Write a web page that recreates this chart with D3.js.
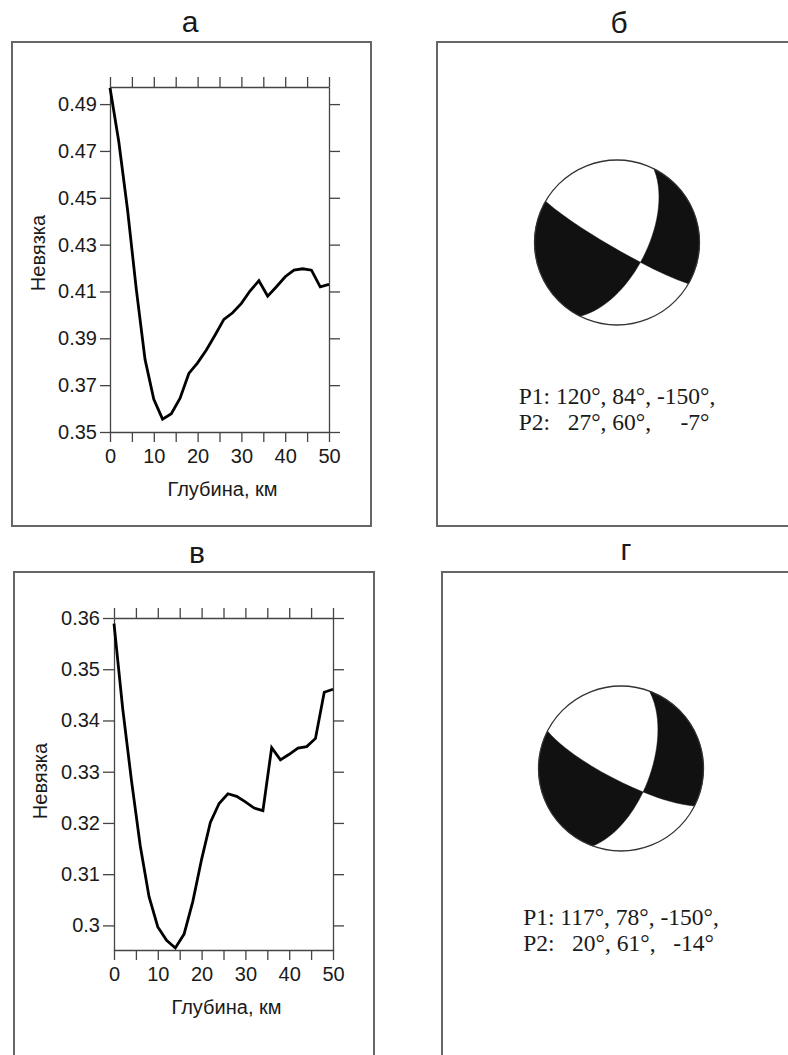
<!DOCTYPE html>
<html lang="ru">
<head>
<meta charset="UTF-8">
<title>Невязка и механизм очага</title>
<script src="https://d3js.org/d3.v7.min.js"></script>
<style>
  body { margin: 0; background: #fff; }
  svg { display: block; font-family: "Liberation Sans", Arial, sans-serif; }
  .frame { fill: none; stroke: #666; stroke-width: 2; }
  .axis path, .axis line { stroke: #444; stroke-width: 1.3; }
  .axis text { font-size: 20px; fill: #1a1a1a; font-family: "Liberation Sans", Arial, sans-serif; }
  .curve { fill: none; stroke: #000; stroke-width: 2.8; }
  .ttl { font-size: 30px; fill: #1a1a1a; text-anchor: middle; }
  .lbl { font-size: 20px; fill: #1a1a1a; text-anchor: middle; }
  .mech { font-family: "Liberation Serif", "Times New Roman", serif; font-size: 23.5px; fill: #1a1a1a; white-space: pre; }
</style>
</head>
<body>
<svg width="788" height="1055"></svg>
<script>
// depth of the trial source, km
const depth = [0, 2, 4, 6, 8, 10, 12, 14, 16, 18, 20, 22, 24, 26, 28, 30, 32, 34, 36, 38, 40, 42, 44, 46, 48, 50];

// misfit ("невязка") vs depth, panels а and в
const misfitA = [0.497, 0.474, 0.445, 0.411, 0.381, 0.364, 0.3555, 0.3578, 0.3644, 0.375, 0.3795, 0.385, 0.3914,
                 0.3981, 0.4009, 0.4049, 0.4103, 0.4146, 0.408, 0.412, 0.4163, 0.4191, 0.4197, 0.4191, 0.412, 0.413];
const misfitB = [0.3589, 0.3422, 0.3282, 0.3155, 0.3056, 0.2997, 0.2971, 0.2956, 0.2983, 0.3047, 0.3129, 0.3201, 0.3238,
                 0.3257, 0.3252, 0.3241, 0.3229, 0.3224, 0.3347, 0.3323, 0.3334, 0.3346, 0.3349, 0.3365, 0.3455, 0.3461];

const xTicks = [0, 5, 10, 15, 20, 25, 30, 35, 40, 45, 50];
const yTicksA = [0.35, 0.37, 0.39, 0.41, 0.43, 0.45, 0.47, 0.49];
const yTicksB = [0.30, 0.31, 0.32, 0.33, 0.34, 0.35, 0.36];

// nodal planes: strike, dip, rake
const mechB = [{ strike: 120, dip: 84, rake: -150 }, { strike: 27, dip: 60, rake: -7 }];
const mechG = [{ strike: 117, dip: 78, rake: -150 }, { strike: 20, dip: 61, rake: -14 }];

const svg = d3.select("svg");
svg.append("rect").attr("width", 788).attr("height", 1055).attr("fill", "#fff");

function misfitPanel(o) {
  const g = svg.append("g");
  g.append("rect").attr("class", "frame")
    .attr("x", o.box[0]).attr("y", o.box[1]).attr("width", o.box[2]).attr("height", o.box[3]);
  g.append("text").attr("class", "ttl").attr("x", o.title[0]).attr("y", o.title[1]).text(o.name);

  const x = d3.scaleLinear().domain([0, 50]).range([o.x0, o.x1]);
  const y = d3.scaleLinear().domain(o.dom).range([o.y1, o.y0]);

  g.append("g").attr("class", "axis").attr("transform", `translate(0,${o.y1})`)
    .call(d3.axisBottom(x).tickValues(xTicks).tickSize(10).tickPadding(7).tickSizeOuter(0)
      .tickFormat(d => d % 10 === 0 ? d : ""));
  g.append("g").attr("class", "axis").attr("transform", `translate(0,${o.y0})`)
    .call(d3.axisTop(x).tickValues(xTicks).tickSize(10).tickSizeOuter(0).tickFormat(""));
  g.append("g").attr("class", "axis").attr("transform", `translate(${o.x0},0)`)
    .call(d3.axisLeft(y).tickValues(o.ticks).tickSize(o.tick).tickPadding(3).tickSizeOuter(0).tickFormat(o.fmt));
  g.append("g").attr("class", "axis").attr("transform", `translate(${o.x1},0)`)
    .call(d3.axisRight(y).tickValues(o.ticks).tickSize(11).tickSizeOuter(0).tickFormat(""));
  g.selectAll(".axis .domain").attr("fill", "none");

  g.append("path").datum(o.values).attr("class", "curve")
    .attr("d", d3.line().x((d, i) => x(depth[i])).y(d => y(d)));

  g.append("text").attr("class", "lbl").attr("x", (o.x0 + o.x1) / 2 + 3).attr("y", o.y1 + 64).text("Глубина, км");
  g.append("text").attr("class", "lbl")
    .attr("transform", `translate(${o.ylab[0]},${o.ylab[1]}) rotate(-90)`).text("Невязка");
}

misfitPanel({ name: "а", box: [12, 42, 359, 484], title: [190, 32], x0: 110, x1: 329, y0: 87, y1: 432,
  dom: [0.35, 0.4973], ticks: yTicksA, tick: 10, fmt: d3.format(".2f"), values: misfitA, ylab: [45, 253] });
misfitPanel({ name: "в", box: [14, 572, 360, 500], title: [197, 563], x0: 114, x1: 333, y0: 618, y1: 950,
  dom: [0.2952, 0.36], ticks: yTicksB, tick: 11, fmt: d => String(+d.toFixed(2)), values: misfitB, ylab: [47, 781] });

// ---- focal mechanism (lower hemisphere, equal area) ----
const rad = Math.PI / 180;
const cross = (a, b) => [a[1] * b[2] - a[2] * b[1], a[2] * b[0] - a[0] * b[2], a[0] * b[1] - a[1] * b[0]];
const neg = a => a.map(v => -v);

function planeVectors(p) {
  const s = p.strike * rad, d = p.dip * rad, r = p.rake * rad;
  const n = [-Math.sin(d) * Math.sin(s), Math.sin(d) * Math.cos(s), -Math.cos(d)];
  const u = [Math.cos(r) * Math.cos(s) + Math.cos(d) * Math.sin(r) * Math.sin(s),
             Math.cos(r) * Math.sin(s) - Math.cos(d) * Math.sin(r) * Math.cos(s),
             -Math.sin(r) * Math.sin(d)];
  return { n, u, b: cross(n, u) };
}

// north-east-down vector -> lon/lat on a sphere whose pole is the nadir
function toLL(v) {
  const az = Math.atan2(v[1], v[0]) / rad;
  const lat = Math.asin(Math.max(-1, Math.min(1, v[2]))) / rad;
  return [180 - az, lat];
}

function lune(pts) {
  const ring = pts.map(toLL);
  ring.push(ring[0]);
  let f = { type: "Polygon", coordinates: [ring] };
  if (d3.geoArea(f) > 2 * Math.PI) f = { type: "Polygon", coordinates: [ring.slice().reverse()] };
  return f;
}

function mechPanel(o) {
  const g = svg.append("g");
  g.append("rect").attr("class", "frame")
    .attr("x", o.box[0]).attr("y", o.box[1]).attr("width", o.box[2]).attr("height", o.box[3]);
  g.append("text").attr("class", "ttl").attr("x", o.title[0]).attr("y", o.title[1]).text(o.name);

  const proj = d3.geoAzimuthalEqualArea().rotate([0, -90]).clipAngle(90)
    .scale(o.r / Math.SQRT2).translate([o.cx, o.cy]).precision(0.1);
  const path = d3.geoPath(proj);
  const { n, u, b } = planeVectors(o.mech[0]);

  g.append("circle").attr("cx", o.cx).attr("cy", o.cy).attr("r", o.r).attr("fill", "#fff");
  [lune([b, u, neg(b), n]), lune([b, neg(u), neg(b), neg(n)])].forEach(f => {
    g.append("path").attr("d", path(f)).attr("fill", "#111").attr("stroke", "#111").attr("stroke-width", 0.5);
  });
  g.append("circle").attr("cx", o.cx).attr("cy", o.cy).attr("r", o.r)
    .attr("fill", "none").attr("stroke", "#333").attr("stroke-width", 1.3);

  // text rows, short numbers padded with two spaces per missing digit
  const cols = ["strike", "dip", "rake"];
  const w = cols.map(c => d3.max(o.mech, p => String(p[c]).length));
  const rows = o.mech.map((p, i) => {
    const parts = cols.map((c, j) => " ".repeat(2 * (w[j] - String(p[c]).length)) + p[c] + "°");
    return `P${i + 1}: ` + parts.join(", ") + (i === 0 ? "," : "");
  });
  const t = g.selectAll(null).data(rows).join("text").attr("class", "mech")
    .attr("y", (d, i) => o.ty + i * 25.5).text(d => d);
  const len = t.nodes()[0].getComputedTextLength();
  t.attr("x", o.cx - len / 2);
}

mechPanel({ name: "б", box: [437, 42, 400, 484], title: [619, 33], cx: 617, cy: 242.5, r: 82.5, mech: mechB, ty: 404 });
mechPanel({ name: "г", box: [442, 572, 400, 500], title: [626, 560], cx: 621, cy: 768.5, r: 82.5, mech: mechG, ty: 925 });
</script>
</body>
</html>
